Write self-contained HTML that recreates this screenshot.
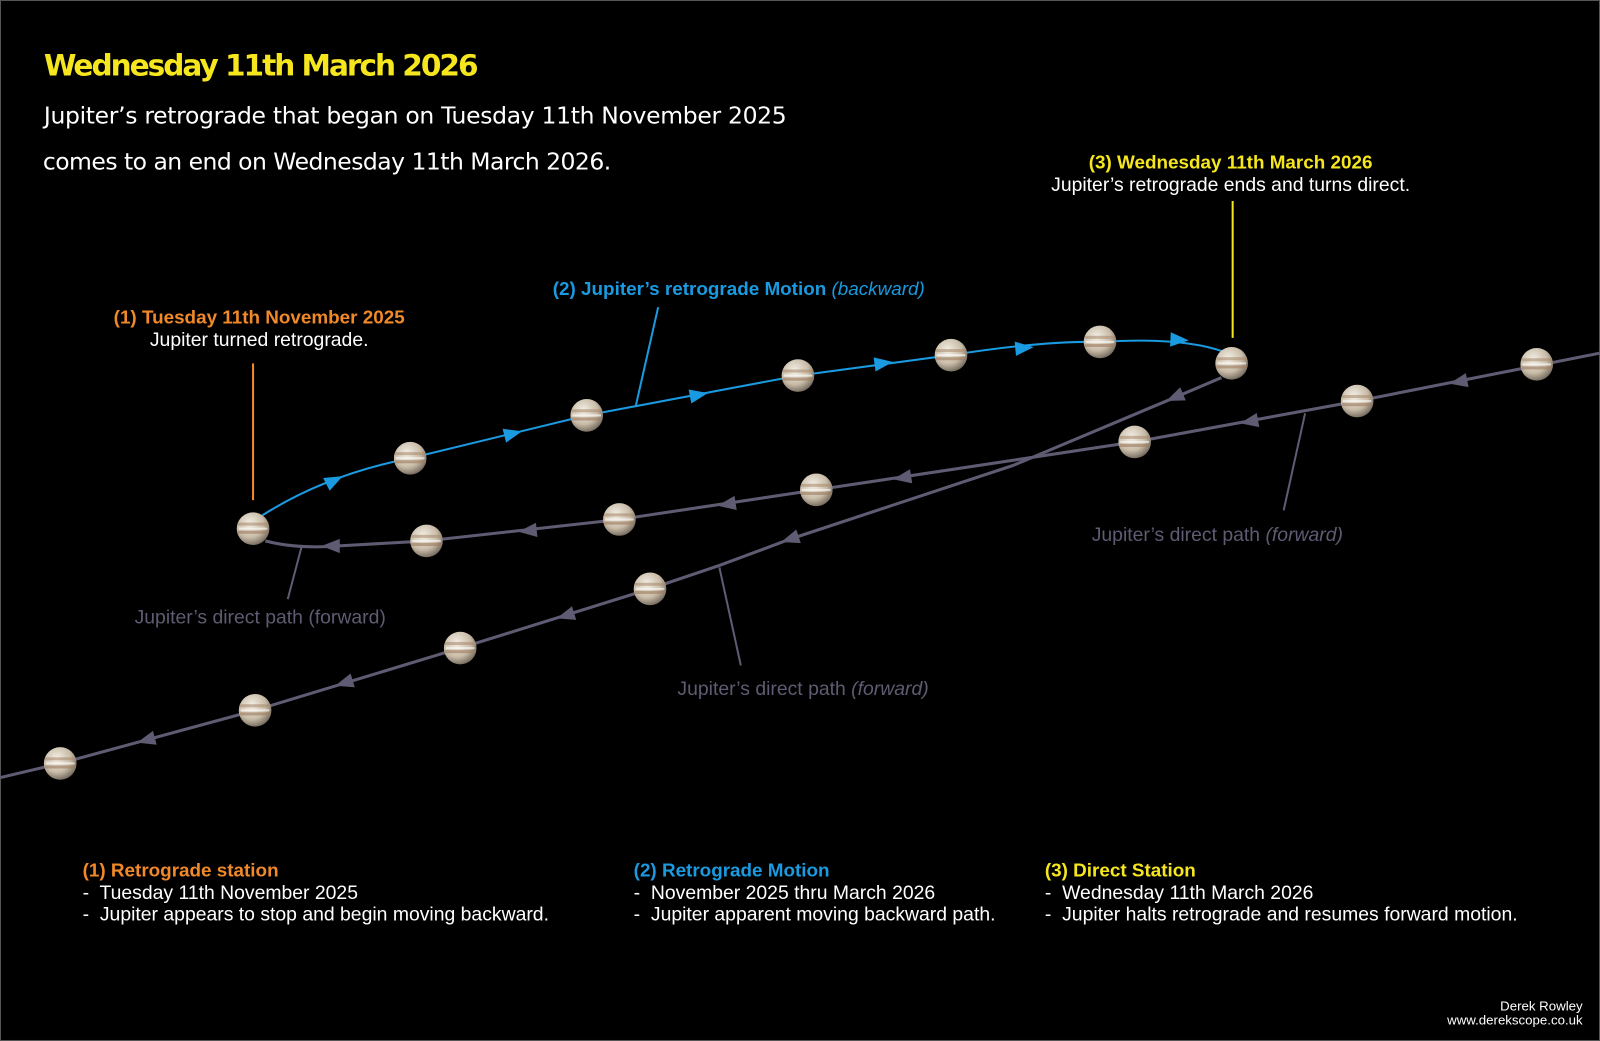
<!DOCTYPE html>
<html><head><meta charset="utf-8"><style>
html,body{margin:0;padding:0;background:#000;}
svg{display:block;}
text{font-family:"Liberation Sans",Arial,sans-serif;}
.t{font-family:"DejaVu Sans","Liberation Sans",sans-serif;}
</style></head><body>
<svg width="1600" height="1041" viewBox="0 0 1568 1020" preserveAspectRatio="none" xmlns="http://www.w3.org/2000/svg">
<defs>
<radialGradient id="pg" cx="40%" cy="35%" r="70%">
<stop offset="0" stop-color="#f4efe6"/><stop offset="0.6" stop-color="#c9bca8"/><stop offset="1" stop-color="#6b6256"/>
</radialGradient>
<g id="jup">
<circle r="16" fill="url(#pg)"/>
<rect x="-15" y="-6" width="30" height="3" fill="#a88a6e" opacity="0.6"/>
<rect x="-15" y="2" width="30" height="3" fill="#9b7a5e" opacity="0.6"/>
<rect x="-14" y="-1" width="28" height="2" fill="#fff" opacity="0.6"/>
</g>
<polygon id="ar" points="10,0 -8,-7 -8,7"/>
</defs>
<rect x="0.5" y="0.5" width="1567" height="1019" fill="#000" stroke="#555" stroke-width="1"/>

<text class="t" x="43" y="74" fill="#f5e61e" font-size="29" font-weight="bold" textLength="426">Wednesday 11th March 2026</text>
<text class="t" x="43" y="121" fill="#fff" font-size="23" textLength="728">Jupiter’s retrograde that began on Tuesday 11th November 2025</text>
<text class="t" x="42" y="166" fill="#fff" font-size="23" textLength="557">comes to an end on Wednesday 11th March 2026.</text>

<!-- gray paths -->
<g stroke="#5f5b72" stroke-width="3" fill="none" stroke-linejoin="round">
<path d="M1197 370 L1150 390 L993 456 L775 528 L705 554 L637 577 L451 635 L250 696 L59 748 L0 762"/>
<path d="M260 530 Q290 538 330 535 L418 530 L607 509 L800 480 L1112 433 L1330 393 L1568 346"/>
</g>
<!-- pointer lines -->
<g stroke="#5f5b72" stroke-width="2">
<line x1="296" y1="534" x2="282" y2="587"/>
<line x1="705" y1="556" x2="726" y2="652"/>
<line x1="1279" y1="405" x2="1258" y2="500"/>
</g>
<line x1="248" y1="356" x2="248" y2="490" stroke="#f0892a" stroke-width="2"/>
<line x1="1208" y1="197" x2="1208" y2="331" stroke="#f5e61e" stroke-width="2"/>
<line x1="645" y1="301" x2="623" y2="398" stroke="#1a9ae0" stroke-width="2"/>

<!-- gray arrows -->
<g fill="#5f5b72">
<use href="#ar" transform="translate(325,535) rotate(180)"/>
<use href="#ar" transform="translate(518,520) rotate(174)"/>
<use href="#ar" transform="translate(713,494) rotate(171)"/>
<use href="#ar" transform="translate(885,468) rotate(171)"/>
<use href="#ar" transform="translate(1225,413) rotate(170)"/>
<use href="#ar" transform="translate(1430,374) rotate(169)"/>
<use href="#ar" transform="translate(1152,389) rotate(157)"/>
<use href="#ar" transform="translate(775,528) rotate(162)"/>
<use href="#ar" transform="translate(555,603) rotate(163)"/>
<use href="#ar" transform="translate(338,669) rotate(163)"/>
<use href="#ar" transform="translate(144,725) rotate(165)"/>
</g>

<!-- blue path -->
<path d="M257 505 Q320 465 402 449 L575 407 L782 368 L932 348 Q1020 334 1078 335 Q1160 330 1200 345" stroke="#1a9ae0" stroke-width="2" fill="none"/>
<g fill="#1a9ae0">
<use href="#ar" transform="translate(327,471) rotate(-27)"/>
<use href="#ar" transform="translate(502,425) rotate(-14)"/>
<use href="#ar" transform="translate(684,387) rotate(-11)"/>
<use href="#ar" transform="translate(865,356) rotate(-8)"/>
<use href="#ar" transform="translate(1003,341) rotate(-5)"/>
<use href="#ar" transform="translate(1155,333) rotate(3)"/>
</g>

<!-- planets -->
<g>
<use href="#jup" x="248" y="518"/><use href="#jup" x="402" y="449"/><use href="#jup" x="575" y="407"/>
<use href="#jup" x="782" y="368"/><use href="#jup" x="932" y="348"/><use href="#jup" x="1078" y="335"/>
<use href="#jup" x="1207" y="356"/>
<use href="#jup" x="418" y="530"/><use href="#jup" x="607" y="509"/><use href="#jup" x="800" y="480"/>
<use href="#jup" x="1112" y="433"/><use href="#jup" x="1330" y="393"/><use href="#jup" x="1506" y="357"/>
<use href="#jup" x="59" y="748"/><use href="#jup" x="250" y="696"/><use href="#jup" x="451" y="635"/><use href="#jup" x="637" y="577"/>
</g>

<!-- labels -->
<g font-size="19">
<text x="254" y="317" fill="#f0892a" font-weight="bold" text-anchor="middle" font-size="18.5">(1) Tuesday 11th November 2025</text>
<text x="254" y="339" fill="#fff" text-anchor="middle">Jupiter turned retrograde.</text>
<text x="724" y="289" fill="#1a9ae0" text-anchor="middle" font-size="18.5"><tspan font-weight="bold">(2) Jupiter’s retrograde Motion</tspan> <tspan font-style="italic">(backward)</tspan></text>
<text x="1206" y="165" fill="#f5e61e" font-weight="bold" text-anchor="middle" font-size="18.5">(3) Wednesday 11th March 2026</text>
<text x="1206" y="187" fill="#fff" text-anchor="middle">Jupiter’s retrograde ends and turns direct.</text>
<text x="255" y="611" fill="#5f5b72" text-anchor="middle">Jupiter’s direct path (forward)</text>
<text x="787" y="681" fill="#5f5b72" text-anchor="middle">Jupiter’s direct path <tspan font-style="italic">(forward)</tspan></text>
<text x="1193" y="530" fill="#5f5b72" text-anchor="middle">Jupiter’s direct path <tspan font-style="italic">(forward)</tspan></text>

<text x="81" y="859" fill="#f0892a" font-weight="bold" font-size="18.5">(1) Retrograde station</text>
<text x="81" y="881" fill="#fff" xml:space="preserve">-  Tuesday 11th November 2025</text>
<text x="81" y="902" fill="#fff" xml:space="preserve">-  Jupiter appears to stop and begin moving backward.</text>
<text x="621" y="859" fill="#1a9ae0" font-weight="bold" font-size="18.5">(2) Retrograde Motion</text>
<text x="621" y="881" fill="#fff" xml:space="preserve">-  November 2025 thru March 2026</text>
<text x="621" y="902" fill="#fff" xml:space="preserve">-  Jupiter apparent moving backward path.</text>
<text x="1024" y="859" fill="#f5e61e" font-weight="bold" font-size="18.5">(3) Direct Station</text>
<text x="1024" y="881" fill="#fff" xml:space="preserve">-  Wednesday 11th March 2026</text>
<text x="1024" y="902" fill="#fff" xml:space="preserve">-  Jupiter halts retrograde and resumes forward motion.</text>
</g>
<text x="1551" y="990" fill="#fff" font-size="13" text-anchor="end">Derek Rowley</text>
<text x="1551" y="1004" fill="#fff" font-size="13" text-anchor="end">www.derekscope.co.uk</text>
</svg>
</body></html>
